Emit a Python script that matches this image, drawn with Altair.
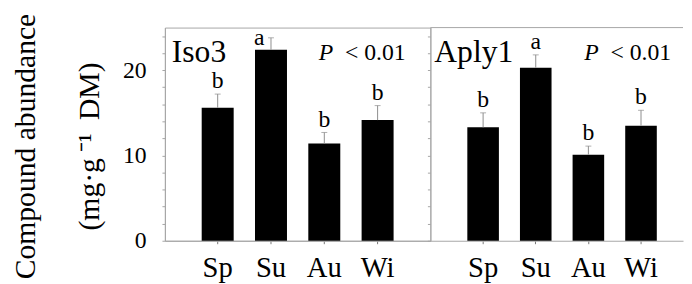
import altair as alt
import pandas as pd

seasons = ["Sp", "Su", "Au", "Wi"]
iso3_mean = [15.6, 22.4, 11.4, 14.15]
iso3_err = [1.6, 1.4, 1.3, 1.7]
iso3_letters = ["b", "a", "b", "b"]
aply1_mean = [13.3, 20.3, 10.1, 13.5]
aply1_err = [1.7, 1.5, 1.0, 1.8]
aply1_letters = ["b", "a", "b", "b"]
panel_names = ["Iso3", "Aply1"]
p_label = "P"
p_value = "< 0.01"
y_ticks = list(range(0, 25, 2))
y_title = ["Compound abundance", "(mg\u00b7g\u2009\u207b\u00b9\u2009 DM)"]

FONT = "Liberation Serif"
GRAY = "#a6a6a6"
ERR = "#8c8c8c"


def panel(name, means, errs, letters, width, pad_outer, align, first):
    df = pd.DataFrame({"season": seasons, "mean": means, "err": errs, "letter": letters})
    df["top"] = df["mean"] + df["err"]
    df["crowded"] = df["top"] > 23
    xs = alt.Scale(domain=seasons, paddingInner=0.4, paddingOuter=pad_outer, align=align)
    ys = alt.Scale(domain=[0, 25], nice=False, zero=True)
    x_axis = alt.Axis(title=None, labelAngle=0, labelFont=FONT, labelFontSize=29,
                      labelColor="black", labelPadding=10, tickSize=3, tickColor="#777",
                      domainColor=GRAY, labelBaseline="top")
    common = dict(values=y_ticks, tickSize=3, tickColor=GRAY, domainColor=GRAY, grid=False,
                  labelOverlap=False)
    if first:
        y_axis = alt.Axis(labelExpr="datum.value % 10 == 0 ? datum.label : ''",
                          labelFont=FONT, labelFontSize=24,
                          labelColor="black", labelPadding=16,
                          title=y_title, titleX=-156, titleY=120, titleAngle=270,
                          titleBaseline="top", titleAlign="center", titleFont=FONT,
                          titleFontSize=30, titleFontWeight="normal", titleLineHeight=65,
                          titleColor="black", **common)
    else:
        y_axis = alt.Axis(labels=False, title=None, **common)
    x = alt.X("season:N", sort=seasons, scale=xs, axis=x_axis)
    y_mean = alt.Y("mean:Q", scale=ys, axis=y_axis)
    y_top = alt.Y("top:Q", scale=ys, axis=y_axis)
    base = alt.Chart(df)
    bars = base.mark_bar(color="black").encode(x=x, y=y_mean)
    err = base.mark_rule(color=ERR, strokeWidth=1).encode(x=x, y=y_mean, y2="top:Q")
    cap = base.mark_tick(color=ERR, size=6, thickness=1).encode(x=x, y=y_top)
    lab = base.transform_filter("!datum.crowded").mark_text(
        font=FONT, fontSize=24, baseline="alphabetic", dy=-6, color="black"
    ).encode(x=x, y=y_top, text="letter:N")
    lab2 = base.transform_filter("datum.crowded").mark_text(
        font=FONT, fontSize=24, baseline="alphabetic", dx=-12, dy=7, color="black"
    ).encode(x=x, y=y_top, text="letter:N")
    one = alt.Chart(pd.DataFrame({"name": [name], "p": [p_label], "v": [p_value]}))
    title_t = one.mark_text(font=FONT, fontSize=32, align="left", baseline="alphabetic",
                            color="black").encode(
        text="name:N", x=alt.value(7 if first else 4), y=alt.value(35))
    p_t = one.mark_text(font=FONT, fontSize=24, fontStyle="italic", align="left",
                        baseline="alphabetic", color="black").encode(
        text="p:N", x=alt.value(156), y=alt.value(33))
    v_t = one.mark_text(font=FONT, fontSize=24, align="right", baseline="alphabetic",
                        color="black").encode(
        text="v:N", x=alt.value(244), y=alt.value(33))
    layers = [bars, err, cap, lab, lab2, title_t, p_t, v_t]
    if first:
        view = alt.ViewBackground(stroke=GRAY)
    else:
        top_rule = one.mark_rule(color=GRAY).encode(
            x=alt.value(0), x2=alt.value(width), y=alt.value(0))
        layers.append(top_rule)
        view = alt.ViewBackground(stroke="transparent")
    return alt.layer(*layers).properties(width=width, height=216, view=view)


left = panel(panel_names[0], iso3_mean, iso3_err, iso3_letters, 269, 0.69, 0.5, True)
right = panel(panel_names[1], aply1_mean, aply1_err, aply1_letters, 256, 0.60, 0.585, False)

chart = alt.hconcat(left, right, spacing=0, bounds="flush").properties(
    padding={"left": 2, "top": 2, "right": 0, "bottom": 0}
).configure(background="white").configure_axis(labelOverlap=False)

chart.save("out.html", embed_options={"renderer": "svg", "actions": False})
